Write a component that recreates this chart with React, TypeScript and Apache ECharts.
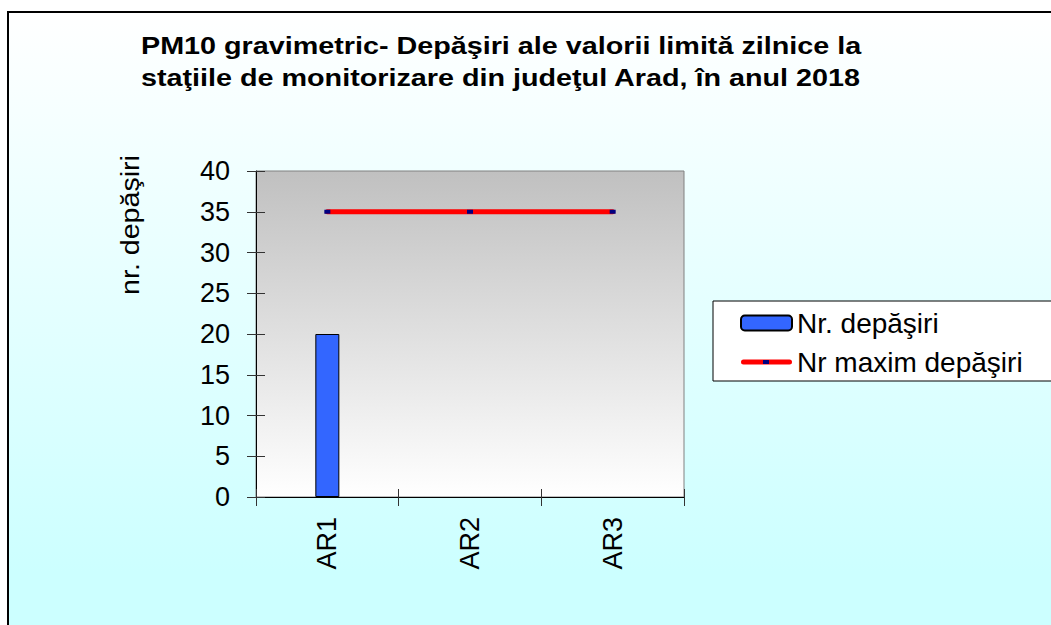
import React, { useEffect, useRef } from "react";
import * as echarts from "echarts";

const categories = ["AR1", "AR2", "AR3"];
const depasiri = [20, null, null];
const maximDepasiri = [35, 35, 35];
const titleLines = [
  "PM10 gravimetric- Depăşiri ale valorii limită zilnice la",
  "staţiile de monitorizare din judeţul Arad, în anul 2018",
];
const yAxisName = "nr. depăşiri";
const seriesNames = ["Nr. depăşiri", "Nr maxim depăşiri"];

export default function App() {
  const ref = useRef<HTMLDivElement>(null);
  useEffect(() => {
    const chart = echarts.init(ref.current!, null, { renderer: "svg" });
    const font = "Arial, 'Liberation Sans', sans-serif";
    const lineIcon =
      "path://M0,0L0.01,0L0.01,0.01ZM0,15L0.01,15L0.01,14.99ZM2.5,5L48.5,5A2.5,2.5,0,0,1,48.5,10L2.5,10A2.5,2.5,0,0,1,2.5,5Z";
    chart.setOption({
      animation: false,
      backgroundColor: "#ffffff",
      graphic: [
        {
          type: "rect",
          z: -10,
          shape: { x: 8, y: 12, width: 1200, height: 800 },
          style: {
            fill: new echarts.graphic.LinearGradient(0, 0, 0, 1, [
              { offset: 0, color: "#ffffff" },
              { offset: 0.7, color: "#ccffff" },
              { offset: 1, color: "#ccffff" },
            ]),
            stroke: "#000",
            lineWidth: 2,
          },
        },
        {
          type: "text",
          x: 141,
          y: 46,
          scaleX: 1.25,
          style: {
            text: titleLines[0],
            fontFamily: font,
            fontSize: 23,
            fontWeight: "bold",
            fill: "#000",
            align: "left",
            verticalAlign: "middle",
          },
        },
        {
          type: "text",
          x: 141,
          y: 78,
          scaleX: 1.25,
          style: {
            text: titleLines[1],
            fontFamily: font,
            fontSize: 23,
            fontWeight: "bold",
            fill: "#000",
            align: "left",
            verticalAlign: "middle",
          },
        },
        {
          type: "text",
          x: 130,
          y: 225,
          rotation: Math.PI / 2,
          scaleX: 1.1,
          style: {
            text: yAxisName,
            fontFamily: font,
            fontSize: 26,
            fill: "#000",
            align: "center",
            verticalAlign: "middle",
          },
        },
        {
          type: "rect",
          z: 100,
          shape: { x: 763, y: 360, width: 6, height: 4 },
          style: { fill: "#000080" },
        },
      ],
      legend: {
        orient: "vertical",
        left: 713,
        top: 301,
        padding: [8, 30, 5, 27],
        itemGap: 11,
        itemWidth: 51,
        itemHeight: 15,
        borderColor: "#000",
        borderWidth: 1,
        backgroundColor: "#fff",
        textStyle: { fontFamily: font, fontSize: 28, color: "#000" },
        data: [
          { name: seriesNames[0], itemStyle: { color: "#3366ff", borderColor: "#000", borderWidth: 2 } },
          { name: seriesNames[1], icon: lineIcon, itemStyle: { color: "#ff0000", borderWidth: 0 } },
        ],
      },
      grid: {
        left: 256,
        top: 171,
        width: 428,
        height: 326,
        show: true,
        borderColor: "#808080",
        borderWidth: 1,
        backgroundColor: {
          type: "linear",
          x: 0,
          y: 0,
          x2: 0,
          y2: 1,
          colorStops: [
            { offset: 0, color: "#c0c0c0" },
            { offset: 1, color: "#ffffff" },
          ],
        },
      },
      xAxis: [
        {
          type: "category",
          data: categories,
          boundaryGap: true,
          axisLine: { lineStyle: { color: "#000", width: 1 } },
          axisTick: { show: true, length: 9, alignWithLabel: false, lineStyle: { color: "#333" } },
          axisLabel: { rotate: 90, margin: 20, fontFamily: font, fontSize: 27, color: "#000" },
        },
        {
          type: "category",
          data: categories,
          position: "bottom",
          boundaryGap: true,
          axisLine: { show: false },
          axisTick: { show: true, inside: true, length: 8, lineStyle: { color: "#333" } },
          axisLabel: { show: false },
        },
      ],
      yAxis: [
        {
          type: "value",
          min: 0,
          max: 40,
          interval: 5,
          splitLine: { show: false },
          axisLine: { show: true, lineStyle: { color: "#000", width: 1 } },
          axisTick: { show: true, length: 9, lineStyle: { color: "#333" } },
          axisLabel: { margin: 26, fontFamily: font, fontSize: 27, color: "#000" },
        },
        {
          type: "value",
          min: 0,
          max: 40,
          interval: 5,
          position: "left",
          splitLine: { show: false },
          axisLine: { show: false },
          axisTick: { show: true, inside: true, length: 9, lineStyle: { color: "#333" } },
          axisLabel: { show: false },
        },
      ],
      series: [
        {
          name: seriesNames[0],
          type: "bar",
          data: depasiri,
          barWidth: 24,
          itemStyle: { color: "#3366ff", borderColor: "#000", borderWidth: 1 },
        },
        {
          name: seriesNames[1],
          type: "line",
          data: maximDepasiri,
          lineStyle: { color: "#ff0000", width: 5, cap: "round" },
          symbol: "rect",
          symbolSize: [6, 4],
          itemStyle: { color: "#000080" },
        },
      ],
    });
    return () => chart.dispose();
  }, []);
  return <div ref={ref} style={{ position: "absolute", left: 0, top: 0, width: 1051, height: 625 }} />;
}
